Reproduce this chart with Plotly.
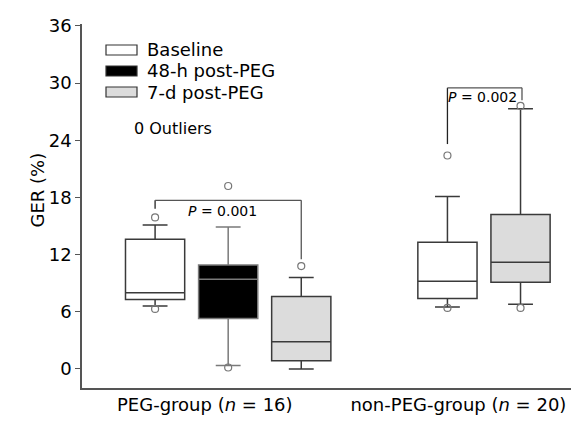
import plotly.graph_objects as go

# ---- data ----
series_names = ["Baseline", "48-h post-PEG", "7-d post-PEG"]
group_labels = ["PEG-group (<i>n</i> = 16)", "non-PEG-group (<i>n</i> = 20)"]
positions = [1, 2, 3, 5, 6]
box_series = ["Baseline", "48-h post-PEG", "7-d post-PEG", "Baseline", "7-d post-PEG"]
q1 = [7.3, 5.3, 0.85, 7.4, 9.1]
median = [8.0, 9.4, 2.85, 9.2, 11.2]
q3 = [13.6, 10.9, 7.6, 13.3, 16.2]
lowerfence = [6.6, 0.35, 0.0, 6.5, 6.8]
upperfence = [15.1, 14.9, 9.6, 18.1, 27.3]
outlier_pos = [1, 1, 2, 2, 3, 5, 5, 6, 6]
outlier_val = [15.9, 6.3, 19.2, 0.15, 10.8, 22.4, 6.4, 27.6, 6.4]
y_ticks = [0, 6, 12, 18, 24, 30, 36]
p_texts = ["<i>P</i> = 0.001", "<i>P</i> = 0.002"]

fills = {"Baseline": "#ffffff", "48-h post-PEG": "#000000", "7-d post-PEG": "#dcdcdc"}
lines = {"Baseline": "#3a3a3a", "48-h post-PEG": "#7a7a7a", "7-d post-PEG": "#3a3a3a"}

FONT = "DejaVu Sans"
fig = go.Figure()
for i, p in enumerate(positions):
    s = box_series[i]
    fig.add_trace(go.Box(
        x=[p], q1=[q1[i]], median=[median[i]], q3=[q3[i]],
        lowerfence=[lowerfence[i]], upperfence=[upperfence[i]],
        fillcolor=fills[s], line=dict(color=lines[s], width=1.5),
        width=0.81, whiskerwidth=0.42, boxpoints=False, showlegend=False,
        hoverinfo="skip"))

fig.add_trace(go.Scatter(
    x=outlier_pos, y=outlier_val, mode="markers",
    marker=dict(symbol="circle-open", size=7, color="#777777", line=dict(width=1.2)),
    showlegend=False, hoverinfo="skip"))

# significance brackets
brk = "#555555"
def bracket(x0, x1, ytop, yl, yr):
    fig.add_shape(type="line", x0=x0, x1=x0, y0=yl, y1=ytop, line=dict(color="#222", width=1.3))
    fig.add_shape(type="line", x0=x0, x1=x1, y0=ytop, y1=ytop, line=dict(color=brk, width=1.3))
    fig.add_shape(type="line", x0=x1, x1=x1, y0=ytop, y1=yr, line=dict(color=brk, width=1.3))

bracket(1, 3, 17.7, 16.8, 11.5)
bracket(5, 6.02, 29.5, 23.6, 28.2)
fig.add_annotation(x=1.92, y=16.6, text=p_texts[0], showarrow=False,
                   font=dict(family=FONT, size=14, color="#000"))
fig.add_annotation(x=5.48, y=28.5, text=p_texts[1], showarrow=False,
                   font=dict(family=FONT, size=14, color="#000"))

# manual legend (paper coords; plot area spans window y 24..388, x 82..579)
leg_y = [50, 71, 92]
for i, s in enumerate(series_names):
    yc = 1 - (leg_y[i] - 24) / 364
    fig.add_shape(type="rect", xref="paper", yref="paper",
                  x0=(106 - 82) / 497, x1=(137 - 82) / 497,
                  y0=yc - 5 / 364, y1=yc + 5 / 364,
                  fillcolor=fills[s], line=dict(color="#333", width=1.2))
    fig.add_annotation(xref="paper", yref="paper", x=(145 - 82) / 497, y=yc,
                       xanchor="left", yanchor="middle", text=s, showarrow=False,
                       font=dict(family=FONT, size=18, color="#000"))
fig.add_annotation(xref="paper", yref="paper", x=(132 - 82) / 497, y=1 - (128 - 24) / 364,
                   xanchor="left", yanchor="middle", text="0 Outliers", showarrow=False,
                   font=dict(family=FONT, size=16, color="#000"))

# y-axis title
fig.add_annotation(xref="paper", yref="paper", x=(25 - 82) / 497, y=1 - (190 - 24) / 364,
                   text="GER (%)", textangle=-90, showarrow=False,
                   font=dict(family=FONT, size=18, color="#000"))

fig.update_layout(
    width=579, height=421,
    margin=dict(l=74, r=8, t=16, b=41),
    paper_bgcolor="white", plot_bgcolor="white",
    showlegend=False,
    xaxis=dict(range=[0, 6.8], tickvals=[1.68, 5.15], ticktext=group_labels,
               ticks="", showgrid=False, zeroline=False, showline=True,
               linecolor="#555", linewidth=1.5,
               tickfont=dict(family=FONT, size=18, color="#000")),
    yaxis=dict(range=[-2, 36.2], tickvals=y_ticks, ticks="outside", ticklen=5,
               tickcolor="#555", showgrid=False, zeroline=False, showline=True,
               linecolor="#555", linewidth=1.5,
               tickfont=dict(family=FONT, size=18, color="#000")),
)

fig.write_html("out.html")
